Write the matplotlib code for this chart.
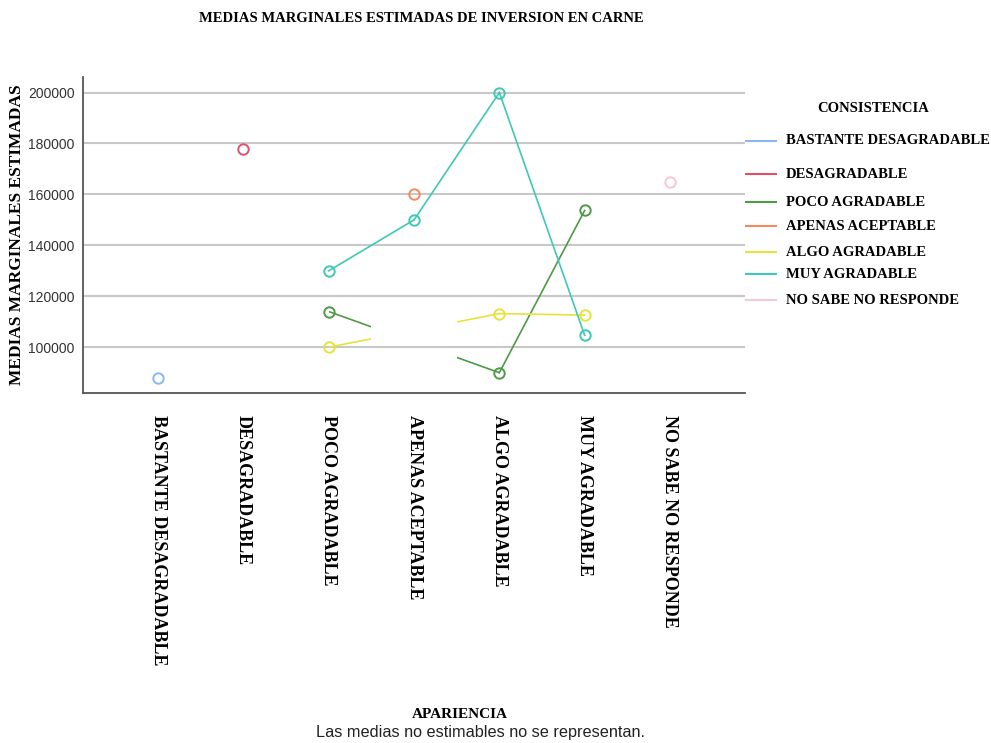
import matplotlib.pyplot as plt
import numpy as np
from matplotlib.lines import Line2D
from matplotlib.patches import Rectangle

# categories on the x axis (APARIENCIA)
apariencia = [
    "BASTANTE DESAGRADABLE",
    "DESAGRADABLE",
    "POCO AGRADABLE",
    "APENAS ACEPTABLE",
    "ALGO AGRADABLE",
    "MUY AGRADABLE",
    "NO SABE NO RESPONDE",
]

# series (CONSISTENCIA), nan = media no estimable
consistencia = [
    "BASTANTE DESAGRADABLE",
    "DESAGRADABLE",
    "POCO AGRADABLE",
    "APENAS ACEPTABLE",
    "ALGO AGRADABLE",
    "MUY AGRADABLE",
    "NO SABE NO RESPONDE",
]
nan = np.nan
bastante_desagradable = [88000, nan, nan, nan, nan, nan, nan]
desagradable = [nan, 178000, nan, nan, nan, nan, nan]
poco_agradable = [nan, nan, 114000, nan, 90000, 153700, nan]
apenas_aceptable = [nan, nan, nan, 160000, nan, nan, nan]
algo_agradable = [nan, nan, 100000, nan, 113200, 112600, nan]
muy_agradable = [nan, nan, 130000, 150000, 200000, 104700, nan]
no_sabe = [nan, nan, nan, nan, nan, nan, 165000]

series = [bastante_desagradable, desagradable, poco_agradable,
          apenas_aceptable, algo_agradable, muy_agradable, no_sabe]
colors = ["#8ab6f2", "#e0506e", "#4e9a45", "#f4895c",
          "#e9e13e", "#3fc8b6", "#f8c6da"]

yticks = [100000, 120000, 140000, 160000, 180000, 200000]

serif = "Liberation Serif"
sans = "Liberation Sans"

fig = plt.figure(figsize=(9.91, 7.43), dpi=100)
ax = fig.add_axes([0.0838, 0.471, 0.668, 0.425])

x = np.arange(len(apariencia))
for vals, col in zip(series, colors):
    vals = np.array(vals, dtype=float)
    idx = np.where(~np.isnan(vals))[0]
    # lines between estimable means; gaps show half a step on each side
    for a, b in zip(idx[:-1], idx[1:]):
        if b == a + 1:
            ax.plot([a, b], [vals[a], vals[b]], color=col, lw=1.2, zorder=3)
        else:
            for lo, hi in [(a, a + 0.5), (b - 0.5, b)]:
                ln, = ax.plot([a, b], [vals[a], vals[b]], color=col, lw=1.2,
                              zorder=3)
                clip = Rectangle((lo, 0), hi - lo, 1e7, transform=ax.transData)
                ln.set_clip_path(clip)
    ax.plot(x[idx], vals[idx], ls="none", marker="o", ms=7.5, mfc="none",
            mec=col, mew=1.4, zorder=4)

ax.set_xlim(-0.88, 6.88)
ax.set_ylim(82000, 206000)
ax.set_yticks(yticks)
ax.set_yticklabels([str(v) for v in yticks], fontsize=10, family=sans,
                   color="#333333")
ax.set_xticks(x)
ax.set_xticklabels(apariencia, rotation=-90, fontsize=13, family=serif,
                   fontweight="bold", va="top", ha="center")
ax.tick_params(axis="both", length=0)
ax.tick_params(axis="x", pad=16)
ax.tick_params(axis="y", pad=6)
ax.grid(axis="y", color="#c8c8c8", lw=1.5)
ax.set_axisbelow(True)
for s in ["top", "right"]:
    ax.spines[s].set_visible(False)
for s in ["left", "bottom"]:
    ax.spines[s].set_color("#555555")
    ax.spines[s].set_linewidth(1.3)

ax.set_ylabel("MEDIAS MARGINALES ESTIMADAS", family=serif, fontweight="bold",
              fontsize=12.5)
ax.yaxis.set_label_coords(-0.087, 0.5)

fig.text(0.425, 1 - 19 / 743, "MEDIAS MARGINALES ESTIMADAS DE INVERSION EN CARNE",
         family=serif, fontweight="bold", fontsize=10.5, ha="center", va="center")
fig.text(460 / 991, 1 - 715 / 743, "APARIENCIA", family=serif,
         fontweight="bold", fontsize=11, ha="center", va="center")
fig.text(481 / 991, 1 - 733 / 743, "Las medias no estimables no se representan.",
         family=sans, fontsize=11.7, ha="center", va="center", color="#222222")

# legend drawn by hand to keep the uneven spacing of the original
fig.text(873 / 991, 1 - 109 / 743, "CONSISTENCIA", family=serif,
         fontweight="bold", fontsize=10.5, ha="center", va="center")
legend_y = [141, 174, 202, 226, 252, 274, 300]
for name, col, yy in zip(consistencia, colors, legend_y):
    fy = 1 - yy / 743
    fig.add_artist(Line2D([746 / 991, 776 / 991], [fy, fy], color=col, lw=1.5,
                          transform=fig.transFigure))
    fig.text(786 / 991, fy, name, family=serif, fontweight="bold",
             fontsize=10.5, ha="left", va="center")

fig.savefig("out.png", dpi=100)
